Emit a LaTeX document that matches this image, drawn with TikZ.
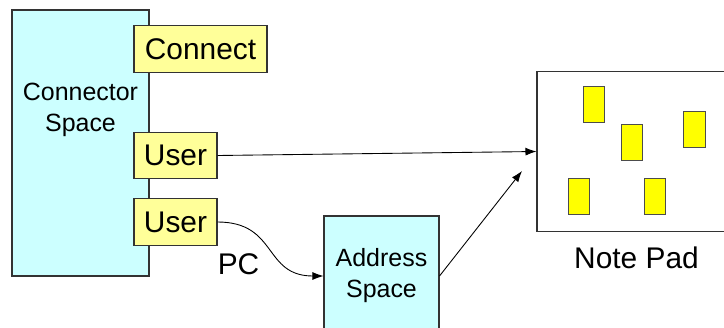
\documentclass[tikz,border=0pt]{standalone}
\usepackage{fontspec}
\setmainfont{Liberation Sans}
\usetikzlibrary{arrows.meta}
\definecolor{spacecyan}{HTML}{CCFFFF}
\definecolor{tagyellow}{HTML}{FFFF99}
\definecolor{noteyellow}{HTML}{FFFF00}
\begin{document}
\begin{tikzpicture}[
		space/.style={draw=black!80,fill=spacecyan,line width=0.6pt,align=center,inner sep=0pt,
			font=\fontsize{14.2}{17.6}\selectfont},
		tag/.style={draw=black!80,fill=tagyellow,line width=0.6pt,inner sep=0pt,minimum height=0.93cm,
			font=\fontsize{17}{20}\selectfont},
		note/.style={draw=black!70,fill=noteyellow,line width=0.6pt,minimum width=0.43cm,minimum height=0.72cm,inner sep=0pt},
		big/.style={font=\fontsize{17}{20}\selectfont,inner sep=0pt},
		link/.style={line width=0.5pt,-{Latex[length=2.2mm,width=1.6mm]}}
	]
		\useasboundingbox (0,0) rectangle (14.48,6.54);
		% connector space with its tags
		\node [space,minimum width=2.74cm,minimum height=5.32cm] (cspace) at (1.61,3.68) {};
		\node [space,draw=none,fill=none] (cspacetext) at (1.61,4.35) {Connector\\Space};
		\node [tag,minimum width=2.66cm] (connect) at (4.01,5.56) {Connect};
		\node [tag,minimum width=1.66cm] (user1) at (3.51,3.43) {User};
		\node [tag,minimum width=1.66cm] (user2) at (3.51,2.10) {User};
		% address space
		\node [space,minimum width=2.30cm,minimum height=2.40cm] (aspace) at (7.63,1.02) {Address\\Space};
		% note pad
		\node [draw=black!80,line width=0.6pt,minimum width=3.78cm,minimum height=3.19cm] (pad) at (12.63,3.51) {};
		\node [big] (padtext) at (12.73,1.38) {Note Pad};
		\node [note] (n1) at (11.88,4.45) {};
		\node [note] (n2) at (12.64,3.69) {};
		\node [note] (n3) at (13.89,3.95) {};
		\node [note] (n4) at (11.58,2.61) {};
		\node [note] (n5) at (13.10,2.61) {};
		\coordinate (padin) at (10.44,3.12);
		% connectors
		\draw [link] (user1.east) -- (pad.west);
		\draw [link] (user2.east) to [out=0,in=180,looseness=1.3] (aspace.west);
		\node [big] (pc) at (4.77,1.26) {PC};
		\draw [link] (aspace.east) -- (padin);
	\end{tikzpicture}
\end{document}
